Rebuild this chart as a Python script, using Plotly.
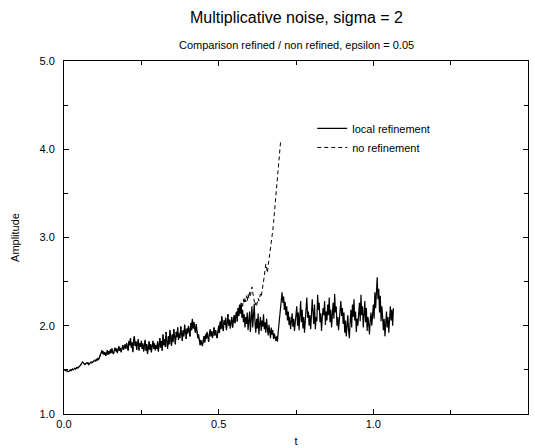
import plotly.graph_objects as go

T_STEP = 0.0025

# local refinement amplitude, sampled every T_STEP from t = 0 (20 samples per 0.05)
local_refinement = [
    1.50, 1.50, 1.49, 1.49, 1.49, 1.48, 1.48, 1.49, 1.50, 1.49, 1.50, 1.51, 1.50, 1.51, 1.52, 1.51, 1.52, 1.53, 1.52, 1.53,
    1.53, 1.55, 1.56, 1.58, 1.59, 1.58, 1.57, 1.56, 1.57, 1.58, 1.57, 1.58, 1.56, 1.57, 1.58, 1.59, 1.58, 1.59, 1.60, 1.60,
    1.61, 1.60, 1.62, 1.61, 1.63, 1.62, 1.64, 1.66, 1.70, 1.72, 1.68, 1.71, 1.67, 1.70, 1.66, 1.69, 1.72, 1.67, 1.71, 1.68,
    1.73, 1.69, 1.74, 1.70, 1.68, 1.72, 1.75, 1.71, 1.74, 1.69, 1.73, 1.77, 1.72, 1.75, 1.70, 1.74, 1.78, 1.73, 1.76, 1.79,
    1.74, 1.80, 1.76, 1.72, 1.83, 1.78, 1.86, 1.75, 1.81, 1.70, 1.84, 1.88, 1.77, 1.82, 1.73, 1.79, 1.85, 1.72, 1.80, 1.76,
    1.83, 1.74, 1.80, 1.71, 1.77, 1.84, 1.72, 1.79, 1.68, 1.75, 1.82, 1.73, 1.79, 1.70, 1.76, 1.83, 1.74, 1.80, 1.72, 1.78,
    1.74, 1.82, 1.71, 1.79, 1.86, 1.75, 1.83, 1.72, 1.90, 1.78, 1.85, 1.76, 1.93, 1.81, 1.74, 1.88, 1.79, 1.95, 1.83, 1.77,
    1.90, 1.82, 1.96, 1.85, 1.79, 1.93, 1.87, 1.98, 1.84, 1.91, 1.86, 1.99, 1.89, 1.83, 1.95, 1.88, 2.01, 1.90, 1.85, 1.97,
    1.91, 2.00, 1.93, 1.88, 2.03, 1.95, 2.08, 1.97, 2.04, 1.99, 1.92, 2.02, 1.94, 1.86, 1.90, 1.82, 1.78, 1.84, 1.80, 1.77,
    1.83, 1.88, 1.81, 1.90, 1.85, 1.93, 1.87, 1.82, 1.91, 1.96, 1.88, 1.94, 1.86, 1.92, 1.98, 1.89, 1.95, 1.90, 1.86, 1.93,
    2.00, 1.92, 2.05, 1.96, 2.11, 1.99, 1.94, 2.06, 2.01, 2.09, 1.95, 2.03, 2.13, 2.00, 2.07, 1.97, 2.04, 2.10, 1.98, 2.06,
    2.12, 2.03, 2.08, 2.16, 2.05, 2.20, 2.11, 2.24, 2.14, 2.26, 2.09, 2.18, 2.04, 2.13, 1.98, 2.10, 2.02, 2.15, 1.95, 2.07,
    2.16, 1.93, 2.05, 2.22, 1.98, 2.12, 2.25, 2.03, 1.92, 2.08, 1.97, 2.14, 1.90, 2.02, 2.10, 1.94, 2.06, 1.99, 2.13, 1.96,
    2.04, 1.92, 2.08, 1.97, 1.89, 2.01, 1.93, 1.86, 1.98, 1.90, 1.95, 1.85, 1.91, 1.87, 1.83, 1.88, 1.82, 1.93, 2.02, 2.15,
    2.24, 2.31, 2.38, 2.26, 2.33, 2.18, 2.27, 2.12, 2.22, 2.06, 2.16, 2.01, 2.10, 1.96, 2.05, 2.14, 1.99, 2.08, 1.94, 2.03,
    2.12, 2.22, 2.00, 2.15, 1.95, 2.08, 2.28, 2.04, 2.18, 1.97, 2.10, 1.92, 2.05, 2.20, 2.32, 2.09, 2.16, 2.00, 2.12, 1.96,
    2.08, 2.30, 2.15, 2.02, 2.24, 1.96, 2.10, 2.05, 2.35, 2.18, 2.26, 2.04, 2.14, 1.94, 2.09, 2.20, 2.12, 2.28, 2.01, 2.16,
    2.06, 2.24, 2.12, 2.32, 2.04, 2.18, 1.98, 2.14, 2.26, 2.08, 2.36, 2.15, 2.22, 2.00, 2.10, 1.95, 2.06, 2.19, 2.28, 2.11,
    2.20, 2.02, 2.15, 1.92, 2.06, 1.88, 2.00, 2.12, 1.95, 1.86, 2.04, 2.18, 1.98, 2.24, 2.10, 2.30, 2.06, 2.16, 1.93, 2.08,
    2.00, 2.14, 2.26, 2.05, 2.35, 2.12, 2.22, 1.98, 2.16, 2.28, 2.04, 2.20, 1.94, 2.10, 2.02, 1.90, 2.06, 2.15, 2.00, 2.12,
    2.24, 2.08, 2.38, 2.20, 2.45, 2.55, 2.30, 2.42, 2.15, 2.34, 2.05, 2.22, 2.10, 1.95, 2.08, 1.88, 2.02, 2.16, 1.98, 2.10,
    1.92, 2.14, 2.22, 2.06, 2.18, 2.00, 2.20,
]

# no refinement: identical to the refined run up to t = 0.570, then blows up
SHARED_POINTS = 229
no_refinement_tail = [
    2.20, 2.26, 2.22, 2.30, 2.25, 2.32, 2.27, 2.34, 2.28, 2.36,
    2.31, 2.38, 2.34, 2.42, 2.44, 2.38, 2.32, 2.27, 2.23, 2.26,
    2.22, 2.27, 2.31, 2.28, 2.34, 2.36, 2.33, 2.38, 2.42, 2.48,
    2.56, 2.64, 2.70, 2.65, 2.60, 2.68, 2.74, 2.80, 2.86, 2.93,
    3.00, 3.08, 3.17, 3.27, 3.37, 3.48, 3.59, 3.70, 3.81, 3.91,
    4.00, 4.08,
]
no_refinement = local_refinement[:SHARED_POINTS] + no_refinement_tail

t_local = [round(i * T_STEP, 5) for i in range(len(local_refinement))]
t_none = [round(i * T_STEP, 5) for i in range(len(no_refinement))]

FONT = "Liberation Sans, Arial, sans-serif"

fig = go.Figure()
fig.add_trace(go.Scatter(x=t_local, y=local_refinement, mode="lines",
                         name="local refinement",
                         line=dict(color="black", width=1.2)))
fig.add_trace(go.Scatter(x=t_none, y=no_refinement, mode="lines",
                         name="no refinement",
                         line=dict(color="black", width=1, dash="4px,3px")))

axis_common = dict(
    showline=True, linecolor="black", linewidth=1, mirror="ticks",
    ticks="inside", ticklen=5, tickcolor="black", showgrid=False,
    zeroline=False, tickformat=".1f", automargin=False,
    tickfont=dict(family=FONT, size=11, color="black"),
)

fig.update_layout(
    width=535, height=448,
    margin=dict(l=64, r=7, t=61, b=34),
    paper_bgcolor="white", plot_bgcolor="white",
    font=dict(family=FONT, size=11, color="black"),
    showlegend=True,
    legend=dict(x=0.535, y=0.85, xanchor="left", yanchor="top",
                bgcolor="rgba(0,0,0,0)", font=dict(family=FONT, size=11),
                itemwidth=30, tracegroupgap=0),
    xaxis=dict(range=[0, 1.5], dtick=0.5, tick0=0,
               minor=dict(ticks="inside", ticklen=4, dtick=0.25, tickcolor="black"),
               title=dict(text="t", standoff=8, font=dict(family=FONT, size=11)),
               **axis_common),
    yaxis=dict(range=[1, 5], dtick=1, tick0=1,
               minor=dict(ticks="inside", ticklen=4, dtick=0.5, tickcolor="black"),
               title=dict(text="Amplitude", standoff=17, font=dict(family=FONT, size=11)),
               ticklabelstandoff=6,
               **axis_common),
    annotations=[
        dict(text="Multiplicative noise, sigma = 2", xref="paper", yref="paper",
             x=0.5, y=1.1246, xanchor="center", yanchor="middle", showarrow=False,
             font=dict(family=FONT, size=16, color="black")),
        dict(text="Comparison refined / non refined, epsilon = 0.05", xref="paper", yref="paper",
             x=0.5, y=1.045, xanchor="center", yanchor="middle", showarrow=False,
             font=dict(family=FONT, size=11, color="black")),
    ],
)

fig.write_html("out.html", config={"displayModeBar": False},
               post_script="document.body.style.margin='0';document.body.style.padding='0';")
